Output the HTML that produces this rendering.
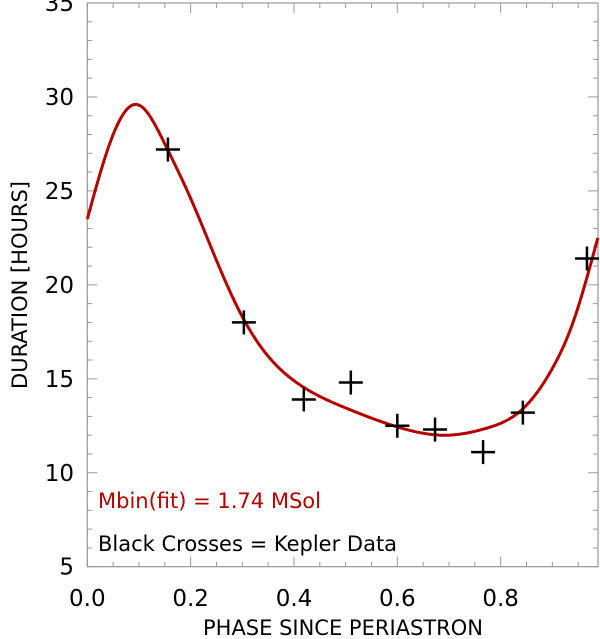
<!DOCTYPE html>
<html><head><meta charset="utf-8">
<style>
html,body{margin:0;padding:0;background:#fff;}
svg{display:block;font-family:"DejaVu Sans","Liberation Sans",sans-serif;}
</style></head>
<body>
<svg id="chart" width="600" height="639" viewBox="0 0 600 639" xmlns="http://www.w3.org/2000/svg"></svg>
<script>
const xTicks = [0.0, 0.2, 0.4, 0.6, 0.8];
const xTickLabels = ["0.0", "0.2", "0.4", "0.6", "0.8"];
const yTicks = [5, 10, 15, 20, 25, 30, 35];
const yTickLabels = ["5", "10", "15", "20", "25", "30", "35"];
const dataPhase = [0.156, 0.303, 0.419, 0.51, 0.60, 0.673, 0.766, 0.843, 0.967];
const dataDuration = [27.2, 18.0, 13.9, 14.8, 12.5, 12.3, 11.1, 13.2, 21.4];
const fitPhase = [0, 0.05, 0.096, 0.15, 0.2, 0.25, 0.3, 0.35, 0.4, 0.5, 0.6, 0.7, 0.77, 0.84, 0.9, 0.94, 0.988];
const fitDuration = [23.5, 28.0, 29.6, 27.5, 24.6, 21.3, 18.3, 16.2, 14.9, 13.45, 12.44, 12.0, 12.35, 13.33, 15.55, 18.0, 22.5];

const X0 = 87.3, XS = 516.7, XR = 598;
const YTOP = 3, YBOT = 566.7;
const xs = v => X0 + v * XS;
const ys = v => YBOT - (v - 5) / 30 * (YBOT - YTOP);
const NS = "http://www.w3.org/2000/svg";
const svg = document.getElementById('chart');
function mk(tag, attrs, parent) {
  const e = document.createElementNS(NS, tag);
  for (const k in attrs) e.setAttribute(k, attrs[k]);
  (parent || svg).appendChild(e);
  return e;
}
const frame = mk('rect', {x: X0, y: YTOP, width: XR - X0, height: YBOT - YTOP, fill: 'none', stroke: '#999', 'stroke-width': 1.2});


for (let v = 0; v <= 0.99; v += 0.05) {
  const major = Math.abs(v / 0.2 - Math.round(v / 0.2)) < 1e-6;
  const L = major ? 10 : 5;
  const x = xs(v);
  const t1 = mk('line', {x1: x, x2: x, y1: YBOT, y2: YBOT - L, stroke: '#999', 'stroke-width': 1});
  
  
  const t2 = mk('line', {x1: x, x2: x, y1: YTOP, y2: YTOP + L, stroke: '#999', 'stroke-width': 1});
  
  
}
for (let v = 5; v <= 35; v += 1) {
  const major = v % 5 === 0;
  const L = major ? 10 : 5;
  const y = ys(v);
  const t1 = mk('line', {x1: X0, x2: X0 + L, y1: y, y2: y, stroke: '#999', 'stroke-width': 1});
  
  
  const t2 = mk('line', {x1: XR, x2: XR - L, y1: y, y2: y, stroke: '#999', 'stroke-width': 1});
  
  
}
xTicks.forEach((v, i) => {
  const t = mk('text', {x: xs(v), y: 606, 'text-anchor': 'middle', 'font-size': 23, fill: '#000'});
  t.textContent = xTickLabels[i];
  
  
});
yTicks.forEach((v, i) => {
  const t = mk('text', {x: 74, y: ys(v) + 8, 'text-anchor': 'end', 'font-size': 23, fill: '#000'});
  t.textContent = yTickLabels[i];
  
  
});
const xt = mk('text', {x: 343, y: 635, 'text-anchor': 'middle', 'font-size': 21, fill: '#000'});
xt.textContent = 'PHASE SINCE PERIASTRON';


const yt = mk('text', {x: 0, y: 0, 'text-anchor': 'middle', 'font-size': 21, fill: '#000', transform: 'translate(27,285) rotate(-90)'});
yt.textContent = 'DURATION [HOURS]';



// natural cubic spline in data space
function spline(X, Y) {
  const n = X.length, h = [], a = [], l = [1], mu = [0], z = [0], c = new Array(n).fill(0), b = [], dd = [];
  for (let i = 0; i < n - 1; i++) h[i] = X[i + 1] - X[i];
  for (let i = 1; i < n - 1; i++) a[i] = 3 / h[i] * (Y[i + 1] - Y[i]) - 3 / h[i - 1] * (Y[i] - Y[i - 1]);
  for (let i = 1; i < n - 1; i++) {
    l[i] = 2 * (X[i + 1] - X[i - 1]) - h[i - 1] * mu[i - 1];
    mu[i] = h[i] / l[i];
    z[i] = (a[i] - h[i - 1] * z[i - 1]) / l[i];
  }
  for (let j = n - 2; j >= 0; j--) {
    c[j] = (j === 0 ? 0 : z[j]) - mu[j] * c[j + 1];
    if (j === 0) c[0] = 0;
    b[j] = (Y[j + 1] - Y[j]) / h[j] - h[j] * (c[j + 1] + 2 * c[j]) / 3;
    dd[j] = (c[j + 1] - c[j]) / (3 * h[j]);
  }
  return x => {
    let i = 0;
    while (i < n - 2 && x > X[i + 1]) i++;
    const t = x - X[i];
    return Y[i] + b[i] * t + c[i] * t * t + dd[i] * t * t * t;
  };
}
const f = spline(fitPhase, fitDuration);
const x0 = fitPhase[0], x1 = fitPhase[fitPhase.length - 1];
let d = '';
for (let k = 0; k <= 300; k++) {
  const x = x0 + (x1 - x0) * k / 300;
  d += (k ? ' L' : 'M') + xs(x).toFixed(2) + ',' + ys(f(x)).toFixed(2);
}
const fit = mk('path', {d: d, fill: 'none', stroke: '#b30000', 'stroke-width': 3, 'stroke-linejoin': 'round'});


dataPhase.forEach((v, i) => {
  const cx = xs(v), cy = ys(dataDuration[i]);
  const g = mk('g', {stroke: '#000', 'stroke-width': 2.5});
  
  
  mk('line', {x1: cx - 12, x2: cx + 12, y1: cy, y2: cy}, g);
  mk('line', {x1: cx, x2: cx, y1: cy - 12, y2: cy + 12}, g);
});
const a1 = mk('text', {x: 98, y: 508, 'font-size': 21, fill: '#b30000'});
a1.textContent = 'Mbin(fit) = 1.74 MSol';


const a2 = mk('text', {x: 98, y: 551, 'font-size': 21, fill: '#000'});
a2.textContent = 'Black Crosses = Kepler Data';


</script>
</body></html>
